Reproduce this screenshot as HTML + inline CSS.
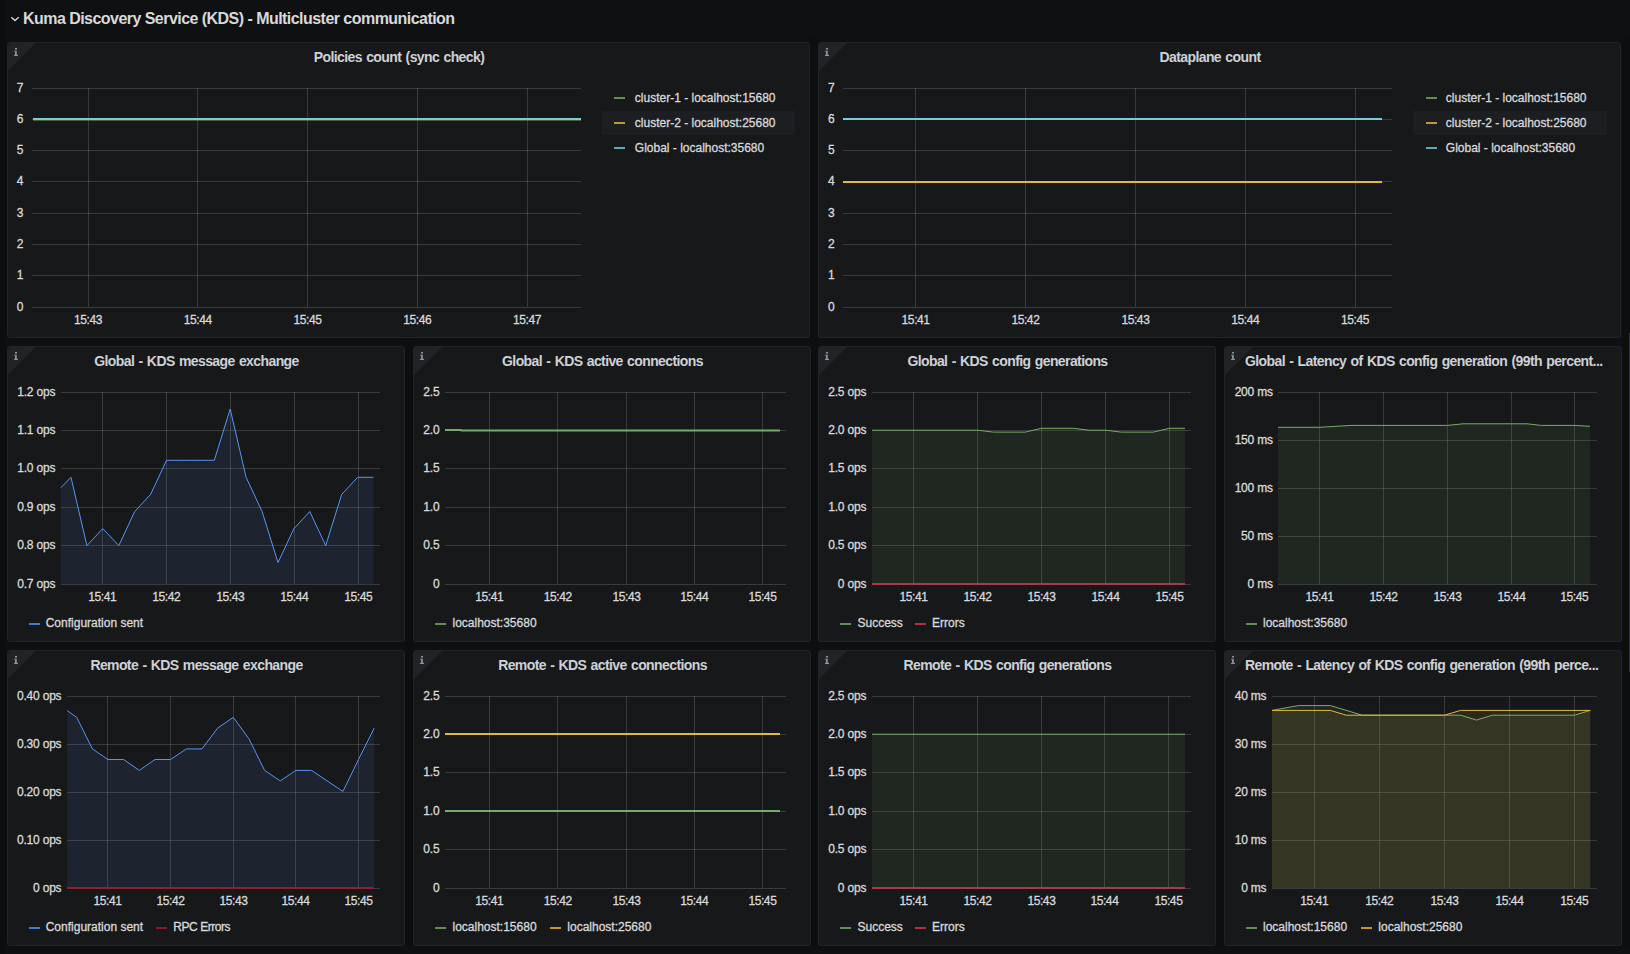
<!DOCTYPE html><html><head><meta charset="utf-8"><style>

html,body{margin:0;padding:0;}
body{width:1630px;height:954px;overflow:hidden;background:#0f1012;position:relative;font-family:"Liberation Sans", sans-serif;}
.vs{position:absolute;background:#0d0e10}
.p{position:absolute;box-sizing:border-box;background:#17181a;border:1px solid #222327;border-radius:3px;overflow:hidden}
.corner{position:absolute;left:0;top:0;width:0;height:0;border-left:28px solid #222326;border-bottom:28px solid transparent}
.ii{position:absolute;left:6px;top:5px}
.t{position:absolute;left:-1px;top:6px;text-align:center;font-size:14px;font-weight:bold;letter-spacing:-0.6px;word-spacing:1px;color:#cdd1d6;white-space:nowrap;line-height:16px}
.tl{text-align:left}
.rt{position:absolute;left:23px;top:10px;font-size:16px;font-weight:bold;letter-spacing:-0.54px;color:#d8d9da;white-space:nowrap;line-height:18px}
.yl{position:absolute;width:80px;text-align:right;font-size:12px;line-height:16px;color:#d8d9da;white-space:nowrap}
.xl{position:absolute;width:80px;text-align:center;font-size:12px;line-height:16px;color:#d8d9da;white-space:nowrap}
.li{position:absolute;width:11px;height:2px}
.lt{position:absolute;font-size:12px;line-height:16px;color:#d8d9da;white-space:nowrap}
.hl{position:absolute;background:#1d1e21}
svg.plot{position:absolute;left:0;top:0}
.yl,.xl,.lt{-webkit-text-stroke:0.3px currentColor}
.xl{letter-spacing:-0.4px}
.yl{letter-spacing:-0.2px}
.li{opacity:0.8}

</style></head><body><div class="vs" style="left:0px;top:0px;width:5px;height:954px"></div><div class="vs" style="left:5px;top:38px;width:2px;height:908px"></div><div class="vs" style="left:1622px;top:38px;width:8px;height:908px"></div><div class="vs" style="left:810px;top:38px;width:8px;height:908px"></div><div class="vs" style="left:405px;top:342px;width:8px;height:604px"></div><div class="vs" style="left:1216px;top:342px;width:8px;height:604px"></div><div class="vs" style="left:1629px;top:333px;width:1px;height:339px;background:#31344a"></div>
<div class="p" style="left:7px;top:42px;width:803px;height:296px"><div class="corner"></div><svg class="ii" width="4" height="8" viewBox="0 0 4 8"><rect x="1" y="0" width="2" height="1.6" fill="#8c8f95"/><path d="M0.2 2.8h2.6v4h1.2V8H0V6.8h1V3.8H0.2z" fill="#8c8f95"/></svg>
<div class="t" style="width:784px">Policies count (sync check)</div>
</div>
<div class="p" style="left:818px;top:42px;width:803px;height:296px"><div class="corner"></div><svg class="ii" width="4" height="8" viewBox="0 0 4 8"><rect x="1" y="0" width="2" height="1.6" fill="#8c8f95"/><path d="M0.2 2.8h2.6v4h1.2V8H0V6.8h1V3.8H0.2z" fill="#8c8f95"/></svg>
<div class="t" style="width:784px">Dataplane count</div>
</div>
<div class="p" style="left:7px;top:346px;width:398px;height:296px"><div class="corner"></div><svg class="ii" width="4" height="8" viewBox="0 0 4 8"><rect x="1" y="0" width="2" height="1.6" fill="#8c8f95"/><path d="M0.2 2.8h2.6v4h1.2V8H0V6.8h1V3.8H0.2z" fill="#8c8f95"/></svg>
<div class="t" style="width:379px">Global - KDS message exchange</div>
</div>
<div class="p" style="left:413px;top:346px;width:398px;height:296px"><div class="corner"></div><svg class="ii" width="4" height="8" viewBox="0 0 4 8"><rect x="1" y="0" width="2" height="1.6" fill="#8c8f95"/><path d="M0.2 2.8h2.6v4h1.2V8H0V6.8h1V3.8H0.2z" fill="#8c8f95"/></svg>
<div class="t" style="width:379px">Global - KDS active connections</div>
</div>
<div class="p" style="left:818px;top:346px;width:398px;height:296px"><div class="corner"></div><svg class="ii" width="4" height="8" viewBox="0 0 4 8"><rect x="1" y="0" width="2" height="1.6" fill="#8c8f95"/><path d="M0.2 2.8h2.6v4h1.2V8H0V6.8h1V3.8H0.2z" fill="#8c8f95"/></svg>
<div class="t" style="width:379px">Global - KDS config generations</div>
</div>
<div class="p" style="left:1224px;top:346px;width:398px;height:296px"><div class="corner"></div><svg class="ii" width="4" height="8" viewBox="0 0 4 8"><rect x="1" y="0" width="2" height="1.6" fill="#8c8f95"/><path d="M0.2 2.8h2.6v4h1.2V8H0V6.8h1V3.8H0.2z" fill="#8c8f95"/></svg>
<div class="t tl" style="left:20px">Global - Latency of KDS config generation (99th percent...</div>
</div>
<div class="p" style="left:7px;top:650px;width:398px;height:296px"><div class="corner"></div><svg class="ii" width="4" height="8" viewBox="0 0 4 8"><rect x="1" y="0" width="2" height="1.6" fill="#8c8f95"/><path d="M0.2 2.8h2.6v4h1.2V8H0V6.8h1V3.8H0.2z" fill="#8c8f95"/></svg>
<div class="t" style="width:379px">Remote - KDS message exchange</div>
</div>
<div class="p" style="left:413px;top:650px;width:398px;height:296px"><div class="corner"></div><svg class="ii" width="4" height="8" viewBox="0 0 4 8"><rect x="1" y="0" width="2" height="1.6" fill="#8c8f95"/><path d="M0.2 2.8h2.6v4h1.2V8H0V6.8h1V3.8H0.2z" fill="#8c8f95"/></svg>
<div class="t" style="width:379px">Remote - KDS active connections</div>
</div>
<div class="p" style="left:818px;top:650px;width:398px;height:296px"><div class="corner"></div><svg class="ii" width="4" height="8" viewBox="0 0 4 8"><rect x="1" y="0" width="2" height="1.6" fill="#8c8f95"/><path d="M0.2 2.8h2.6v4h1.2V8H0V6.8h1V3.8H0.2z" fill="#8c8f95"/></svg>
<div class="t" style="width:379px">Remote - KDS config generations</div>
</div>
<div class="p" style="left:1224px;top:650px;width:398px;height:296px"><div class="corner"></div><svg class="ii" width="4" height="8" viewBox="0 0 4 8"><rect x="1" y="0" width="2" height="1.6" fill="#8c8f95"/><path d="M0.2 2.8h2.6v4h1.2V8H0V6.8h1V3.8H0.2z" fill="#8c8f95"/></svg>
<div class="t tl" style="left:20px">Remote - Latency of KDS config generation (99th perce...</div>
</div>
<svg class="plot" width="1630" height="954" viewBox="0 0 1630 954"><g stroke="rgba(255,255,255,0.15)" stroke-width="1"><line x1="32" y1="88.5" x2="581" y2="88.5"/><line x1="32" y1="119.5" x2="581" y2="119.5"/><line x1="32" y1="150.5" x2="581" y2="150.5"/><line x1="32" y1="181.5" x2="581" y2="181.5"/><line x1="32" y1="213.5" x2="581" y2="213.5"/><line x1="32" y1="244.5" x2="581" y2="244.5"/><line x1="32" y1="275.5" x2="581" y2="275.5"/><line x1="32" y1="307.5" x2="581" y2="307.5"/><line x1="88.5" y1="88" x2="88.5" y2="307"/><line x1="197.5" y1="88" x2="197.5" y2="307"/><line x1="307.5" y1="88" x2="307.5" y2="307"/><line x1="417.5" y1="88" x2="417.5" y2="307"/><line x1="527.5" y1="88" x2="527.5" y2="307"/></g><g stroke="rgba(255,255,255,0.15)" stroke-width="1"><line x1="843" y1="88.5" x2="1392" y2="88.5"/><line x1="843" y1="119.5" x2="1392" y2="119.5"/><line x1="843" y1="150.5" x2="1392" y2="150.5"/><line x1="843" y1="181.5" x2="1392" y2="181.5"/><line x1="843" y1="213.5" x2="1392" y2="213.5"/><line x1="843" y1="244.5" x2="1392" y2="244.5"/><line x1="843" y1="275.5" x2="1392" y2="275.5"/><line x1="843" y1="307.5" x2="1392" y2="307.5"/><line x1="915.5" y1="88" x2="915.5" y2="307"/><line x1="1025.5" y1="88" x2="1025.5" y2="307"/><line x1="1135.5" y1="88" x2="1135.5" y2="307"/><line x1="1245.5" y1="88" x2="1245.5" y2="307"/><line x1="1355.5" y1="88" x2="1355.5" y2="307"/></g><path d="M33.0,119.6 L581.0,119.6" fill="none" stroke="#8a9a4a" stroke-width="2" stroke-linejoin="round"/><path d="M33.0,119.0 L581.0,119.0" fill="none" stroke="#6ED0E0" stroke-width="2" stroke-linejoin="round"/><path d="M843.0,119.0 L1382.0,119.0" fill="none" stroke="#6ED0E0" stroke-width="2" stroke-linejoin="round"/><path d="M843.0,182.0 L1382.0,182.0" fill="none" stroke="#EAB839" stroke-width="2" stroke-linejoin="round"/><g stroke="rgba(255,255,255,0.15)" stroke-width="1"><line x1="61" y1="392.5" x2="380" y2="392.5"/><line x1="61" y1="430.5" x2="380" y2="430.5"/><line x1="61" y1="468.5" x2="380" y2="468.5"/><line x1="61" y1="507.5" x2="380" y2="507.5"/><line x1="61" y1="545.5" x2="380" y2="545.5"/><line x1="61" y1="584.5" x2="380" y2="584.5"/><line x1="102.5" y1="392" x2="102.5" y2="584"/><line x1="166.5" y1="392" x2="166.5" y2="584"/><line x1="230.5" y1="392" x2="230.5" y2="584"/><line x1="294.5" y1="392" x2="294.5" y2="584"/><line x1="358.5" y1="392" x2="358.5" y2="584"/></g><path d="M60.8,487.7 L71.0,477.3 L86.9,545.6 L102.8,528.6 L118.8,545.6 L134.7,511.5 L150.6,494.4 L166.5,460.3 L182.4,460.3 L198.4,460.3 L214.3,460.3 L230.2,409.0 L246.1,477.3 L262.1,511.5 L278.0,562.6 L293.9,528.6 L309.8,511.5 L325.7,545.6 L341.7,494.4 L357.6,477.3 L373.5,477.3 L373.5,584 L60.8,584 Z" fill="#5794F2" fill-opacity="0.1" stroke="none"/><path d="M60.8,487.7 L71.0,477.3 L86.9,545.6 L102.8,528.6 L118.8,545.6 L134.7,511.5 L150.6,494.4 L166.5,460.3 L182.4,460.3 L198.4,460.3 L214.3,460.3 L230.2,409.0 L246.1,477.3 L262.1,511.5 L278.0,562.6 L293.9,528.6 L309.8,511.5 L325.7,545.6 L341.7,494.4 L357.6,477.3 L373.5,477.3" fill="none" stroke="#5794F2" stroke-width="1" stroke-linejoin="round"/><g stroke="rgba(255,255,255,0.15)" stroke-width="1"><line x1="445" y1="392.5" x2="786" y2="392.5"/><line x1="445" y1="430.5" x2="786" y2="430.5"/><line x1="445" y1="468.5" x2="786" y2="468.5"/><line x1="445" y1="507.5" x2="786" y2="507.5"/><line x1="445" y1="545.5" x2="786" y2="545.5"/><line x1="445" y1="584.5" x2="786" y2="584.5"/><line x1="489.5" y1="392" x2="489.5" y2="584"/><line x1="557.5" y1="392" x2="557.5" y2="584"/><line x1="626.5" y1="392" x2="626.5" y2="584"/><line x1="694.5" y1="392" x2="694.5" y2="584"/><line x1="762.5" y1="392" x2="762.5" y2="584"/></g><path d="M445.0,430.0 L461.0,430.0 L461.5,430.6 L780.0,430.6" fill="none" stroke="#77AD66" stroke-width="2" stroke-linejoin="round"/><g stroke="rgba(255,255,255,0.15)" stroke-width="1"><line x1="872" y1="392.5" x2="1191" y2="392.5"/><line x1="872" y1="430.5" x2="1191" y2="430.5"/><line x1="872" y1="468.5" x2="1191" y2="468.5"/><line x1="872" y1="507.5" x2="1191" y2="507.5"/><line x1="872" y1="545.5" x2="1191" y2="545.5"/><line x1="872" y1="584.5" x2="1191" y2="584.5"/><line x1="913.5" y1="392" x2="913.5" y2="584"/><line x1="977.5" y1="392" x2="977.5" y2="584"/><line x1="1041.5" y1="392" x2="1041.5" y2="584"/><line x1="1105.5" y1="392" x2="1105.5" y2="584"/><line x1="1169.5" y1="392" x2="1169.5" y2="584"/></g><path d="M872.0,430.2 L977.5,430.2 L993.4,432.1 L1025.4,432.1 L1041.4,428.3 L1073.4,428.3 L1089.4,430.2 L1105.4,430.2 L1121.3,432.1 L1153.3,432.1 L1169.4,428.3 L1185.0,428.3 L1185.0,584 L872.0,584 Z" fill="#77AD66" fill-opacity="0.1" stroke="none"/><path d="M872.0,430.2 L977.5,430.2 L993.4,432.1 L1025.4,432.1 L1041.4,428.3 L1073.4,428.3 L1089.4,430.2 L1105.4,430.2 L1121.3,432.1 L1153.3,432.1 L1169.4,428.3 L1185.0,428.3" fill="none" stroke="#77AD66" stroke-width="1" stroke-linejoin="round"/><path d="M872.0,584.0 L1185.0,584.0" fill="none" stroke="#A83D4A" stroke-width="2" stroke-linejoin="round"/><g stroke="rgba(255,255,255,0.15)" stroke-width="1"><line x1="1278" y1="392.5" x2="1597" y2="392.5"/><line x1="1278" y1="440.5" x2="1597" y2="440.5"/><line x1="1278" y1="488.5" x2="1597" y2="488.5"/><line x1="1278" y1="536.5" x2="1597" y2="536.5"/><line x1="1278" y1="584.5" x2="1597" y2="584.5"/><line x1="1319.5" y1="392" x2="1319.5" y2="584"/><line x1="1383.5" y1="392" x2="1383.5" y2="584"/><line x1="1447.5" y1="392" x2="1447.5" y2="584"/><line x1="1511.5" y1="392" x2="1511.5" y2="584"/><line x1="1574.5" y1="392" x2="1574.5" y2="584"/></g><path d="M1278.0,427.3 L1319.5,427.3 L1351.0,425.4 L1447.4,425.4 L1463.0,423.8 L1527.0,423.8 L1541.4,425.4 L1574.3,425.4 L1590.0,426.3 L1590.0,584 L1278.0,584 Z" fill="#77AD66" fill-opacity="0.1" stroke="none"/><path d="M1278.0,427.3 L1319.5,427.3 L1351.0,425.4 L1447.4,425.4 L1463.0,423.8 L1527.0,423.8 L1541.4,425.4 L1574.3,425.4 L1590.0,426.3" fill="none" stroke="#77AD66" stroke-width="1" stroke-linejoin="round"/><g stroke="rgba(255,255,255,0.15)" stroke-width="1"><line x1="67" y1="696.5" x2="380" y2="696.5"/><line x1="67" y1="744.5" x2="380" y2="744.5"/><line x1="67" y1="792.5" x2="380" y2="792.5"/><line x1="67" y1="840.5" x2="380" y2="840.5"/><line x1="67" y1="888.5" x2="380" y2="888.5"/><line x1="107.5" y1="696" x2="107.5" y2="888"/><line x1="170.5" y1="696" x2="170.5" y2="888"/><line x1="233.5" y1="696" x2="233.5" y2="888"/><line x1="295.5" y1="696" x2="295.5" y2="888"/><line x1="358.5" y1="696" x2="358.5" y2="888"/></g><path d="M67.2,710.6 L76.7,717.3 L92.4,748.9 L108.0,759.5 L123.7,759.5 L139.3,770.4 L155.0,759.5 L170.6,759.5 L186.3,748.9 L202.0,748.9 L217.6,728.1 L233.3,717.3 L248.9,738.7 L264.6,770.4 L280.3,780.9 L295.9,770.4 L311.6,770.4 L327.2,780.9 L342.9,791.5 L358.5,759.5 L374.2,728.1 L374.2,888 L67.2,888 Z" fill="#5794F2" fill-opacity="0.1" stroke="none"/><path d="M67.2,710.6 L76.7,717.3 L92.4,748.9 L108.0,759.5 L123.7,759.5 L139.3,770.4 L155.0,759.5 L170.6,759.5 L186.3,748.9 L202.0,748.9 L217.6,728.1 L233.3,717.3 L248.9,738.7 L264.6,770.4 L280.3,780.9 L295.9,770.4 L311.6,770.4 L327.2,780.9 L342.9,791.5 L358.5,759.5 L374.2,728.1" fill="none" stroke="#5794F2" stroke-width="1" stroke-linejoin="round"/><path d="M67.0,888.0 L373.5,888.0" fill="none" stroke="#8A2230" stroke-width="2" stroke-linejoin="round"/><g stroke="rgba(255,255,255,0.15)" stroke-width="1"><line x1="445" y1="696.5" x2="786" y2="696.5"/><line x1="445" y1="734.5" x2="786" y2="734.5"/><line x1="445" y1="772.5" x2="786" y2="772.5"/><line x1="445" y1="811.5" x2="786" y2="811.5"/><line x1="445" y1="849.5" x2="786" y2="849.5"/><line x1="445" y1="888.5" x2="786" y2="888.5"/><line x1="489.5" y1="696" x2="489.5" y2="888"/><line x1="557.5" y1="696" x2="557.5" y2="888"/><line x1="626.5" y1="696" x2="626.5" y2="888"/><line x1="694.5" y1="696" x2="694.5" y2="888"/><line x1="762.5" y1="696" x2="762.5" y2="888"/></g><path d="M445.0,811.0 L780.0,811.0" fill="none" stroke="#77AD66" stroke-width="2" stroke-linejoin="round"/><path d="M445.0,734.0 L780.0,734.0" fill="none" stroke="#EAB839" stroke-width="2" stroke-linejoin="round"/><g stroke="rgba(255,255,255,0.15)" stroke-width="1"><line x1="872" y1="696.5" x2="1191" y2="696.5"/><line x1="872" y1="734.5" x2="1191" y2="734.5"/><line x1="872" y1="772.5" x2="1191" y2="772.5"/><line x1="872" y1="811.5" x2="1191" y2="811.5"/><line x1="872" y1="849.5" x2="1191" y2="849.5"/><line x1="872" y1="888.5" x2="1191" y2="888.5"/><line x1="913.5" y1="696" x2="913.5" y2="888"/><line x1="977.5" y1="696" x2="977.5" y2="888"/><line x1="1041.5" y1="696" x2="1041.5" y2="888"/><line x1="1104.5" y1="696" x2="1104.5" y2="888"/><line x1="1168.5" y1="696" x2="1168.5" y2="888"/></g><path d="M872.0,734.2 L1185.0,734.2 L1185.0,888 L872.0,888 Z" fill="#77AD66" fill-opacity="0.1" stroke="none"/><path d="M872.0,734.2 L1185.0,734.2" fill="none" stroke="#77AD66" stroke-width="1" stroke-linejoin="round"/><path d="M872.0,888.0 L1185.0,888.0" fill="none" stroke="#A83D4A" stroke-width="2" stroke-linejoin="round"/><g stroke="rgba(255,255,255,0.15)" stroke-width="1"><line x1="1272" y1="696.5" x2="1597" y2="696.5"/><line x1="1272" y1="744.5" x2="1597" y2="744.5"/><line x1="1272" y1="792.5" x2="1597" y2="792.5"/><line x1="1272" y1="840.5" x2="1597" y2="840.5"/><line x1="1272" y1="888.5" x2="1597" y2="888.5"/><line x1="1314.5" y1="696" x2="1314.5" y2="888"/><line x1="1379.5" y1="696" x2="1379.5" y2="888"/><line x1="1444.5" y1="696" x2="1444.5" y2="888"/><line x1="1509.5" y1="696" x2="1509.5" y2="888"/><line x1="1574.5" y1="696" x2="1574.5" y2="888"/></g><path d="M1272.0,710.4 L1298.3,705.6 L1330.3,705.6 L1362.3,715.2 L1460.5,715.2 L1476.5,720.0 L1492.5,715.2 L1574.3,715.2 L1590.3,710.4 L1590.3,888 L1272.0,888 Z" fill="#77AD66" fill-opacity="0.1" stroke="none"/><path d="M1272.0,710.4 L1298.3,705.6 L1330.3,705.6 L1362.3,715.2 L1460.5,715.2 L1476.5,720.0 L1492.5,715.2 L1574.3,715.2 L1590.3,710.4" fill="none" stroke="#77AD66" stroke-width="1" stroke-linejoin="round"/><path d="M1272.0,710.4 L1330.3,710.4 L1346.3,715.2 L1444.5,715.2 L1460.5,710.4 L1590.3,710.4 L1590.3,888 L1272.0,888 Z" fill="#EAB839" fill-opacity="0.1" stroke="none"/><path d="M1272.0,710.4 L1330.3,710.4 L1346.3,715.2 L1444.5,715.2 L1460.5,710.4 L1590.3,710.4" fill="none" stroke="#EAB839" stroke-width="1" stroke-linejoin="round"/></svg>
<svg style="position:absolute;left:10px;top:15px" width="10" height="7" viewBox="0 0 10 7"><path d="M1.3 2.3 L5 5.6 L8.7 2.3" fill="none" stroke="#d0d4d9" stroke-width="1.4"/></svg>
<div class="rt">Kuma Discovery Service (KDS) - Multicluster communication</div>
<div class="yl" style="left:-56.7px;top:80px">7</div>
<div class="yl" style="left:-56.7px;top:111px">6</div>
<div class="yl" style="left:-56.7px;top:142px">5</div>
<div class="yl" style="left:-56.7px;top:173px">4</div>
<div class="yl" style="left:-56.7px;top:205px">3</div>
<div class="yl" style="left:-56.7px;top:236px">2</div>
<div class="yl" style="left:-56.7px;top:267px">1</div>
<div class="yl" style="left:-56.7px;top:299px">0</div>
<div class="xl" style="left:48px;top:312px">15:43</div>
<div class="xl" style="left:157.75px;top:312px">15:44</div>
<div class="xl" style="left:267.5px;top:312px">15:45</div>
<div class="xl" style="left:377.25px;top:312px">15:46</div>
<div class="xl" style="left:487px;top:312px">15:47</div>
<div class="hl" style="left:602px;top:111px;width:193px;height:24px"></div>
<div class="li" style="left:614px;top:97px;background:#77AD66"></div>
<div class="lt" style="left:634.8px;top:90px">cluster-1 - localhost:15680</div>
<div class="li" style="left:614px;top:122px;background:#EAB839"></div>
<div class="lt" style="left:634.8px;top:115px">cluster-2 - localhost:25680</div>
<div class="li" style="left:614px;top:147px;background:#6ED0E0"></div>
<div class="lt" style="left:634.8px;top:140px">Global - localhost:35680</div>
<div class="yl" style="left:754.5px;top:80px">7</div>
<div class="yl" style="left:754.5px;top:111px">6</div>
<div class="yl" style="left:754.5px;top:142px">5</div>
<div class="yl" style="left:754.5px;top:173px">4</div>
<div class="yl" style="left:754.5px;top:205px">3</div>
<div class="yl" style="left:754.5px;top:236px">2</div>
<div class="yl" style="left:754.5px;top:267px">1</div>
<div class="yl" style="left:754.5px;top:299px">0</div>
<div class="xl" style="left:875.6px;top:312px">15:41</div>
<div class="xl" style="left:985.4000000000001px;top:312px">15:42</div>
<div class="xl" style="left:1095.4px;top:312px">15:43</div>
<div class="xl" style="left:1205.3px;top:312px">15:44</div>
<div class="xl" style="left:1315px;top:312px">15:45</div>
<div class="hl" style="left:1413px;top:111px;width:194px;height:24px"></div>
<div class="li" style="left:1426px;top:97px;background:#77AD66"></div>
<div class="lt" style="left:1445.8px;top:90px">cluster-1 - localhost:15680</div>
<div class="li" style="left:1426px;top:122px;background:#EAB839"></div>
<div class="lt" style="left:1445.8px;top:115px">cluster-2 - localhost:25680</div>
<div class="li" style="left:1426px;top:147px;background:#6ED0E0"></div>
<div class="lt" style="left:1445.8px;top:140px">Global - localhost:35680</div>
<div class="yl" style="left:-24.799999999999997px;top:384px">1.2 ops</div>
<div class="yl" style="left:-24.799999999999997px;top:422px">1.1 ops</div>
<div class="yl" style="left:-24.799999999999997px;top:460px">1.0 ops</div>
<div class="yl" style="left:-24.799999999999997px;top:499px">0.9 ops</div>
<div class="yl" style="left:-24.799999999999997px;top:537px">0.8 ops</div>
<div class="yl" style="left:-24.799999999999997px;top:576px">0.7 ops</div>
<div class="xl" style="left:62.3px;top:588.5px">15:41</div>
<div class="xl" style="left:126.30000000000001px;top:588.5px">15:42</div>
<div class="xl" style="left:190.3px;top:588.5px">15:43</div>
<div class="xl" style="left:254.2px;top:588.5px">15:44</div>
<div class="xl" style="left:318.2px;top:588.5px">15:45</div>
<div class="li" style="left:29px;top:623px;background:#5794F2"></div>
<div class="lt" style="left:45.7px;top:615px">Configuration sent</div>
<div class="yl" style="left:359.4px;top:384px">2.5</div>
<div class="yl" style="left:359.4px;top:422px">2.0</div>
<div class="yl" style="left:359.4px;top:460px">1.5</div>
<div class="yl" style="left:359.4px;top:499px">1.0</div>
<div class="yl" style="left:359.4px;top:537px">0.5</div>
<div class="yl" style="left:359.4px;top:576px">0</div>
<div class="xl" style="left:449.3px;top:588.5px">15:41</div>
<div class="xl" style="left:517.7px;top:588.5px">15:42</div>
<div class="xl" style="left:586.5px;top:588.5px">15:43</div>
<div class="xl" style="left:654.3px;top:588.5px">15:44</div>
<div class="xl" style="left:722.4px;top:588.5px">15:45</div>
<div class="li" style="left:435px;top:623px;background:#77AD66"></div>
<div class="lt" style="left:452.5px;top:615px">localhost:35680</div>
<div class="yl" style="left:786.2px;top:384px">2.5 ops</div>
<div class="yl" style="left:786.2px;top:422px">2.0 ops</div>
<div class="yl" style="left:786.2px;top:460px">1.5 ops</div>
<div class="yl" style="left:786.2px;top:499px">1.0 ops</div>
<div class="yl" style="left:786.2px;top:537px">0.5 ops</div>
<div class="yl" style="left:786.2px;top:576px">0 ops</div>
<div class="xl" style="left:873.5px;top:588.5px">15:41</div>
<div class="xl" style="left:937.5px;top:588.5px">15:42</div>
<div class="xl" style="left:1001.4000000000001px;top:588.5px">15:43</div>
<div class="xl" style="left:1065.4px;top:588.5px">15:44</div>
<div class="xl" style="left:1129.4px;top:588.5px">15:45</div>
<div class="li" style="left:840px;top:623px;background:#77AD66"></div>
<div class="lt" style="left:857.5px;top:615px">Success</div>
<div class="li" style="left:915px;top:623px;background:#D03C4C"></div>
<div class="lt" style="left:932px;top:615px">Errors</div>
<div class="yl" style="left:1192.8px;top:384px">200 ms</div>
<div class="yl" style="left:1192.8px;top:432px">150 ms</div>
<div class="yl" style="left:1192.8px;top:480px">100 ms</div>
<div class="yl" style="left:1192.8px;top:528px">50 ms</div>
<div class="yl" style="left:1192.8px;top:576px">0 ms</div>
<div class="xl" style="left:1279.5px;top:588.5px">15:41</div>
<div class="xl" style="left:1343.5px;top:588.5px">15:42</div>
<div class="xl" style="left:1407.4px;top:588.5px">15:43</div>
<div class="xl" style="left:1471.4px;top:588.5px">15:44</div>
<div class="xl" style="left:1534.3px;top:588.5px">15:45</div>
<div class="li" style="left:1246px;top:623px;background:#77AD66"></div>
<div class="lt" style="left:1263px;top:615px">localhost:35680</div>
<div class="yl" style="left:-18.6px;top:688px">0.40 ops</div>
<div class="yl" style="left:-18.6px;top:736px">0.30 ops</div>
<div class="yl" style="left:-18.6px;top:784px">0.20 ops</div>
<div class="yl" style="left:-18.6px;top:832px">0.10 ops</div>
<div class="yl" style="left:-18.6px;top:880px">0 ops</div>
<div class="xl" style="left:67.5px;top:892.5px">15:41</div>
<div class="xl" style="left:130.5px;top:892.5px">15:42</div>
<div class="xl" style="left:193.5px;top:892.5px">15:43</div>
<div class="xl" style="left:255.5px;top:892.5px">15:44</div>
<div class="xl" style="left:318.5px;top:892.5px">15:45</div>
<div class="li" style="left:29px;top:927px;background:#5794F2"></div>
<div class="lt" style="left:45.7px;top:919px">Configuration sent</div>
<div class="li" style="left:156px;top:927px;background:#A31D2C"></div>
<div class="lt" style="left:173.3px;top:919px"><span style="letter-spacing:-0.45px">RPC Errors</span></div>
<div class="yl" style="left:359.4px;top:688px">2.5</div>
<div class="yl" style="left:359.4px;top:726px">2.0</div>
<div class="yl" style="left:359.4px;top:764px">1.5</div>
<div class="yl" style="left:359.4px;top:803px">1.0</div>
<div class="yl" style="left:359.4px;top:841px">0.5</div>
<div class="yl" style="left:359.4px;top:880px">0</div>
<div class="xl" style="left:449.3px;top:892.5px">15:41</div>
<div class="xl" style="left:517.7px;top:892.5px">15:42</div>
<div class="xl" style="left:586.5px;top:892.5px">15:43</div>
<div class="xl" style="left:654.3px;top:892.5px">15:44</div>
<div class="xl" style="left:722.4px;top:892.5px">15:45</div>
<div class="li" style="left:435px;top:927px;background:#77AD66"></div>
<div class="lt" style="left:452.5px;top:919px">localhost:15680</div>
<div class="li" style="left:550px;top:927px;background:#EAB839"></div>
<div class="lt" style="left:567.3px;top:919px">localhost:25680</div>
<div class="yl" style="left:786.2px;top:688px">2.5 ops</div>
<div class="yl" style="left:786.2px;top:726px">2.0 ops</div>
<div class="yl" style="left:786.2px;top:764px">1.5 ops</div>
<div class="yl" style="left:786.2px;top:803px">1.0 ops</div>
<div class="yl" style="left:786.2px;top:841px">0.5 ops</div>
<div class="yl" style="left:786.2px;top:880px">0 ops</div>
<div class="xl" style="left:873.5px;top:892.5px">15:41</div>
<div class="xl" style="left:937.5px;top:892.5px">15:42</div>
<div class="xl" style="left:1001.4000000000001px;top:892.5px">15:43</div>
<div class="xl" style="left:1064.4px;top:892.5px">15:44</div>
<div class="xl" style="left:1128.4px;top:892.5px">15:45</div>
<div class="li" style="left:840px;top:927px;background:#77AD66"></div>
<div class="lt" style="left:857.5px;top:919px">Success</div>
<div class="li" style="left:915px;top:927px;background:#D03C4C"></div>
<div class="lt" style="left:932px;top:919px">Errors</div>
<div class="yl" style="left:1186.4px;top:688px">40 ms</div>
<div class="yl" style="left:1186.4px;top:736px">30 ms</div>
<div class="yl" style="left:1186.4px;top:784px">20 ms</div>
<div class="yl" style="left:1186.4px;top:832px">10 ms</div>
<div class="yl" style="left:1186.4px;top:880px">0 ms</div>
<div class="xl" style="left:1274.3px;top:892.5px">15:41</div>
<div class="xl" style="left:1339.3px;top:892.5px">15:42</div>
<div class="xl" style="left:1404.5px;top:892.5px">15:43</div>
<div class="xl" style="left:1469.4px;top:892.5px">15:44</div>
<div class="xl" style="left:1534.3px;top:892.5px">15:45</div>
<div class="li" style="left:1246px;top:927px;background:#77AD66"></div>
<div class="lt" style="left:1263px;top:919px">localhost:15680</div>
<div class="li" style="left:1361px;top:927px;background:#EAB839"></div>
<div class="lt" style="left:1378.3px;top:919px">localhost:25680</div>
</body></html>
